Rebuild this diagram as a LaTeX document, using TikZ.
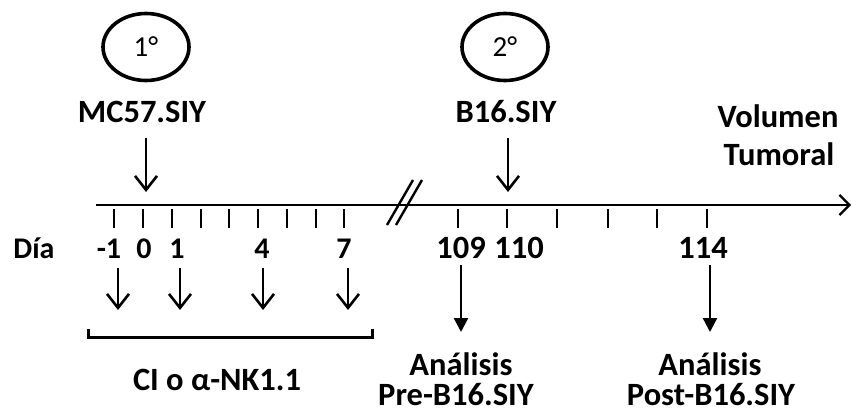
\documentclass[tikz,border=0pt]{standalone}
\usepackage{fontspec}
\setmainfont{Carlito}
\usetikzlibrary{arrows.meta}
\begin{document}
\begin{tikzpicture}[x=1pt,y=-1pt,
  lbl/.style={font=\fontsize{32.5}{36}\selectfont\bfseries, inner sep=0pt, anchor=base},
  sml/.style={font=\fontsize{30}{34}\selectfont\bfseries, inner sep=0pt, anchor=base},
  elltext/.style={inner sep=0pt, font=\fontsize{29}{34}\selectfont},
  ellline/.style={line width=3.6pt},
  axisline/.style={line width=2.8pt, -{Straight Barb[length=10pt,width=20pt,line width=2.2pt]}},
  tickmark/.style={line width=2pt},
  openarrow/.style={line width=2pt, -{Straight Barb[length=14pt,width=22pt,line width=2.6pt]}},
  fillarrow/.style={line width=2.4pt, -{Triangle[length=14pt,width=14pt]}},
  bracket/.style={line width=3pt},
  breakmark/.style={line width=2.4pt}]
\useasboundingbox (0,0) rectangle (852,412);

% top ellipses and labels
\node[elltext] (p1) at (146,47) {1°};
\node[elltext] (p2) at (505,47) {2°};
\draw[ellline] (p1.center) ellipse [x radius=43pt, y radius=33.5pt];
\draw[ellline] (p2.center) ellipse [x radius=43pt, y radius=33.5pt];
\node[lbl] (mc) at (142,122) {MC57.SIY};
\node[lbl] (b16) at (506,122) {B16.SIY};
\node[lbl] (vol) at (778,127) {Volumen};
\node[lbl] (tum) at (779,165) {Tumoral};

% axis
\coordinate (a0) at (96,205);
\coordinate (a1) at (851,205);
\draw[axisline] (a0) -- (a1);

% break marks
\draw[breakmark] (387,225) -- (413,180);
\draw[breakmark] (396,225) -- (422,180);

% ticks
\foreach \x in {114,143,172,201,229,258,287,316,344,458,507,557,608,657,707}
  \draw[tickmark] (\x,209) -- (\x,228);

% injection arrows on top
\coordinate (mcS) at (146,138);
\coordinate (mcE) at (146,192);
\coordinate (bS) at (508,138);
\coordinate (bE) at (508,192);
\draw[openarrow] (mcS) -- (mcE);
\draw[openarrow] (bS) -- (bE);

% day labels
\node[sml] (dia) at (34,258) {Día};
\node[sml] (dm1) at (109,258) {-1};
\node[sml] (d0) at (144,258) {0};
\node[sml] (d1) at (177,258) {1};
\node[sml] (d4) at (262,258) {4};
\node[sml] (d7) at (344,258) {7};
\node[lbl] (d109) at (461,258) {109};
\node[lbl] (d110) at (519,258) {110};
\node[lbl] (d114) at (703,258) {114};

% treatment arrows
\foreach \x/\n in {118/t1,180/t2,263/t3,348/t4}{
  \coordinate (\n s) at (\x,268);
  \coordinate (\n e) at (\x,310);
  \draw[openarrow] (\n s) -- (\n e);
}

% bracket
\draw[bracket] (88,329) -- (88,337) -- (372,337) -- (372,329);
\node[lbl] (ci) at (217,390) {CI o α-NK1.1};

% analysis arrows
\coordinate (pr) at (461,265);
\coordinate (prE) at (461,332);
\coordinate (po) at (710,265);
\coordinate (poE) at (710,332);
\node[lbl] (an1) at (461,375) {Análisis};
\node[lbl] (pre) at (456,405) {Pre-B16.SIY};
\node[lbl] (an2) at (710,375) {Análisis};
\node[lbl] (post) at (711,405) {Post-B16.SIY};
\draw[fillarrow] (pr) -- (prE);
\draw[fillarrow] (po) -- (poE);
\end{tikzpicture}
\end{document}
